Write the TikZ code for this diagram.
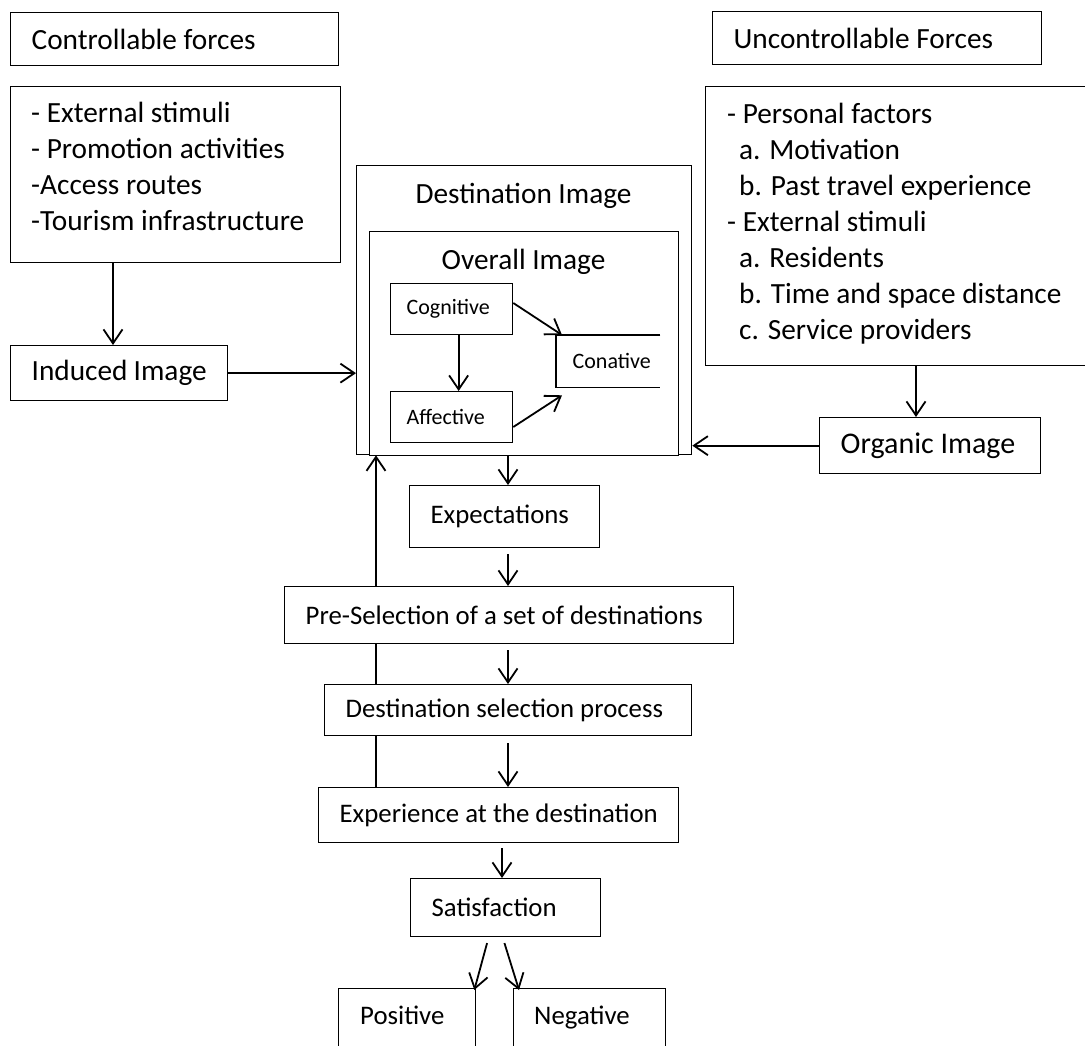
\documentclass[tikz,border=0pt]{standalone}
\usepackage{fontspec}
\setmainfont{Carlito}
\usetikzlibrary{arrows.meta,calc}
\newcommand{\mainsize}{\fontsize{29.3pt}{36pt}\selectfont}
\newcommand{\chainsize}{\fontsize{26.8pt}{32pt}\selectfont}
\newcommand{\smallsize}{\fontsize{22pt}{26pt}\selectfont}
\pgfdeclarelayer{bg}
\pgfsetlayers{bg,main}

\begin{document}
\begin{tikzpicture}[x=1pt,y=-1pt,
  frame/.style={draw, fill=white, line width=1.3pt, inner sep=0pt, anchor=north west},
  tbox/.style={frame, inner xsep=21pt, align=flush left, font=\mainsize},
  cbox/.style={tbox, font=\chainsize},
  sbox/.style={frame, inner xsep=16pt, align=flush left, font=\smallsize},
  listtext/.style={anchor=north west, inner sep=0pt, align=flush left, font=\mainsize},
  plain/.style={inner sep=0pt, font=\mainsize},
  arr/.style={line width=1.8pt, -{Straight Barb[length=14pt,width=19pt]}},
]
\useasboundingbox (0,0) rectangle (1085,1046);

% left column: controllable forces
\node[tbox, minimum width=328pt, minimum height=53pt, text width=286pt] (cf) at (10,12) {Controllable forces};
\node[frame, minimum width=330pt, minimum height=176pt] (cl) at (10,86) {};
\node[listtext] (cltxt) at (31,102) {- External stimuli\\- Promotion activities\\-Access routes\\-Tourism infrastructure};
\node[tbox, minimum width=217pt, minimum height=55pt, text width=175pt] (ind) at (10,345) {Induced Image};

% right column: uncontrollable forces
\node[tbox, minimum width=329pt, minimum height=53pt, text width=287pt] (uf) at (712,11) {Uncontrollable Forces};
\node[frame, minimum width=390pt, minimum height=279pt] (ul) at (705,86) {};
\node[listtext] (ultxt) at (727,103) {- Personal factors\\
  \hspace*{12pt}a. Motivation\\
  \hspace*{12pt}b. Past travel experience\\
  - External stimuli\\
  \hspace*{12pt}a. Residents\\
  \hspace*{12pt}b. Time and space distance\\
  \hspace*{12pt}c. Service providers};
\node[tbox, font=\fontsize{30pt}{36pt}\selectfont, minimum width=221pt, minimum height=56pt, text width=179pt] (org) at (819,417) {Organic Image};

% destination image with the overall image inside
\node[frame, minimum width=335pt, minimum height=289pt] (di) at (356,165) {};
\node[plain] (dit) at (523.5,196) {Destination Image};
\node[frame, minimum width=309pt, minimum height=224pt] (oi) at (369,231) {};
\node[plain] (oit) at (523.5,262) {Overall Image};
\node[sbox, minimum width=122pt, minimum height=51pt, text width=90pt] (cog) at (390,283) {Cognitive};
\node[sbox, minimum width=122pt, minimum height=51pt, text width=90pt] (aff) at (390,391) {Affective};
\node[sbox, draw=none, fill=none, minimum width=103pt, minimum height=51pt, text width=71pt] (con) at (556,335) {Conative};
\draw[line width=1.3pt] (con.north east) -- (con.north west) -- (con.south west) -- (con.south east);

% decision chain
\node[cbox, minimum width=190pt, minimum height=62pt, text width=148pt] (exp) at (409,485) {Expectations};
\node[cbox, minimum width=449pt, minimum height=57pt, text width=407pt] (pre) at (284,586) {\mbox{Pre-Selection of a set of destinations}};
\node[cbox, minimum width=367pt, minimum height=51pt, text width=325pt] (dsp) at (324,684) {\mbox{Destination selection process}};
\node[cbox, minimum width=360pt, minimum height=55pt, text width=318pt] (exd) at (318,787) {\mbox{Experience at the destination}};
\node[cbox, minimum width=190pt, minimum height=58pt, text width=148pt] (sat) at (410,878) {Satisfaction};
\node[frame, minimum width=137pt, minimum height=90pt] (pos) at (338,988) {};
\node[plain, font=\chainsize, anchor=base west] (postxt) at (360,1024) {Positive};
\node[frame, minimum width=152pt, minimum height=90pt] (neg) at (513,988) {};
\node[plain, font=\chainsize, anchor=base west] (negtxt) at (534,1024) {Negative};

% connectors
\coordinate (spine) at (508,0);
\coordinate (spine2) at (502,0);
\coordinate (fb) at (376,0);

\draw[arr] ($(cl.south west)+(103,0)$) -- ($(ind.north west)+(103,0)$);
\draw[arr] (ind.east) -- (ind.east -| di.west);
\draw[arr] ($(ul.south west)+(211,0)$) -- ($(org.north west)+(97,0)$);
\draw[arr] (org.west) -- (org.west -| di.east);

\draw[arr] ($(cog.south)+(7,0)$) -- ($(aff.north)+(7,0)$);
\draw[arr] ($(cog.north east)+(0,20)$) -- ($(con.north west)+(6,0)$);
\draw[arr] ($(aff.north east)+(0,36)$) -- ($(con.south west)+(6,8)$);

\draw[arr] (oi.south -| spine) -- (exp.north -| spine);
\draw[arr, shorten <=6pt] (exp.south -| spine) -- (pre.north -| spine);
\draw[arr, shorten <=6pt] (pre.south -| spine) -- (dsp.north -| spine);
\draw[arr, shorten <=7pt] (dsp.south -| spine) -- (exd.north -| spine);
\draw[arr, shorten <=5pt] (exd.south -| spine2) -- (sat.north -| spine2);
\draw[arr, shorten <=6pt] ($(sat.south)+(-17,0)$) -- ($(pos.north east)+(-2,2)$);
\draw[arr, shorten <=6pt] ($(sat.south)+(-3,0)$) -- ($(neg.north west)+(6,2)$);

% feedback line runs behind the selection boxes
\begin{pgfonlayer}{bg}
\draw[arr] (exd.north -| fb) -- (di.south -| fb);
\end{pgfonlayer}
\end{tikzpicture}
\end{document}
